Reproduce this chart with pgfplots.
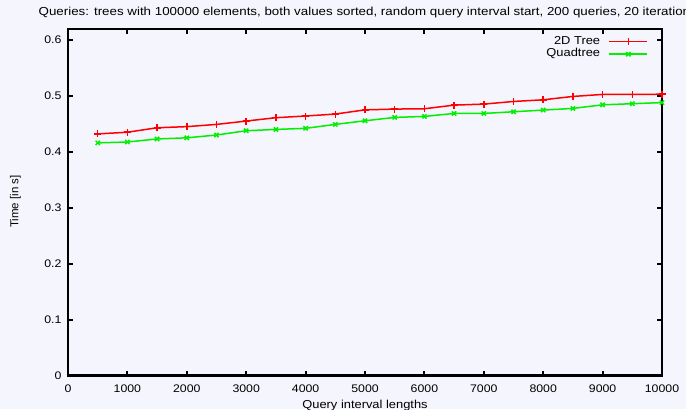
\documentclass[border=0pt]{standalone}
\usepackage{pgfplots}
\pgfplotsset{compat=1.18}
\usepackage{pgfplotstable}
\usepackage{fontspec}
\setmainfont[FakeStretch=1.12]{Liberation Sans}
\newfontfamily\titlefont[FakeStretch=1.15]{Liberation Sans}
\newfontfamily\plainsans{Liberation Sans}
\definecolor{bg}{RGB}{245,245,253}
\definecolor{gpred}{RGB}{255,0,0}
\definecolor{gpgreen}{RGB}{0,240,0}

\pgfplotstableread{
x tree quad
500 0.432 0.416
1000 0.435 0.4175
1500 0.443 0.423
2000 0.445 0.425
2500 0.449 0.430
3000 0.455 0.4377
3500 0.461 0.440
4000 0.464 0.442
4500 0.4675 0.449
5000 0.475 0.4555
5500 0.4764 0.4615
6000 0.477 0.4633
6500 0.4835 0.4686
7000 0.4853 0.4686
7500 0.490 0.4716
8000 0.493 0.4746
8500 0.499 0.4776
9000 0.5026 0.484
9500 0.5026 0.486
10000 0.503 0.488
}\datatable

\begin{document}
\begin{tikzpicture}[x=1bp,y=1bp]
\path[use as bounding box, fill=bg] (0,0) rectangle (686,409);
\begin{scope}
\clip (0,0) rectangle (686,409);
\node[anchor=base west, font=\titlefont\fontsize{11.6bp}{13bp}\selectfont, inner sep=0] at (38.5,393.3) {Queries: trees with 100000 elements, both values sorted, random query interval start, 200 queries, 20 iterations};
\end{scope}
\begin{axis}[
  at={(68bp,33.5bp)}, anchor=south west,
  scale only axis, width=594bp, height=346.5bp,
  xmin=0, xmax=10000, ymin=0, ymax=0.6196,
  xtick={0,1000,2000,3000,4000,5000,6000,7000,8000,9000,10000},
  ytick={0,0.1,0.2,0.3,0.4,0.5,0.6},
  yticklabels={0,0.1,0.2,0.3,0.4,0.5,0.6},
  scaled x ticks=false, scaled y ticks=false,
  /pgf/number format/1000 sep={},
  /pgf/number format/assume math mode=true,
  tick align=inside, major tick length=5bp,
  tick style={line width=2bp, black},
  axis line style={line width=2.5bp},
  tick label style={font=\fontsize{11bp}{13bp}\selectfont, black},
  xticklabel style={yshift=-5.5bp},
  yticklabel style={xshift=-3bp},
  xlabel={Query interval lengths},
  xlabel style={at={(axis description cs:0.5,0)}, anchor=base, yshift=-33bp, font=\fontsize{11.5bp}{13bp}\selectfont},
  ylabel={Time [in s]},
  ylabel style={at={(axis description cs:-0.0884,0.502)}, anchor=center, font=\plainsans\fontsize{11.5bp}{13bp}\selectfont},
  legend plot pos=right,
  legend cell align=right,
  legend style={at={(axis description cs:0.982,0.9864)}, anchor=north east, draw=none, fill=none,
    font=\fontsize{11.5bp}{12bp}\selectfont, row sep=1bp, column sep=8bp,
    nodes={inner sep=0.5bp, text height=8bp, text depth=2.5bp}},
  legend image code/.code={\draw[mark repeat=2,mark phase=2,#1] plot coordinates {(0bp,0bp) (19bp,0bp) (38bp,0bp)};},
  every axis plot/.append style={line width=1.5bp},
]
\addplot[color=gpred, mark=+, mark size=3.5bp] table[x=x,y=tree] {\datatable};
\addlegendentry{2D Tree}
\addplot[color=gpgreen, mark=x, mark size=3bp] table[x=x,y=quad] {\datatable};
\addlegendentry{Quadtree}
\end{axis}
\end{tikzpicture}
\end{document}
